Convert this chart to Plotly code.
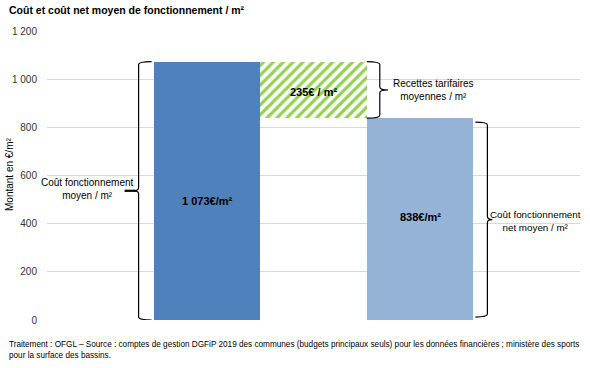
import plotly.graph_objects as go

# ---- data ----
bar_labels = ["1 073€/m²", "235€ / m²", "838€/m²"]
cout_moyen = 1073
recettes = 235
cout_net = 838
tick_vals = [0, 200, 400, 600, 800, 1000, 1200]
tick_text = ["0", "200", "400", "600", "800", "1 000", "1 200"]
brace_texts = ["Coût fonctionnement<br>moyen / m²",
               "Recettes tarifaires<br>moyennes / m²",
               "Coût fonctionnement<br>net moyen / m²"]
title_text = "Coût et coût net moyen de fonctionnement / m²"
y_title = "Montant en €/m²"
source_text = ("Traitement : OFGL – Source : comptes de gestion DGFiP 2019 des communes (budgets principaux seuls) "
               "pour les données financières ; ministère des sports<br>pour la surface des bassins.")

FONT = "Liberation Sans, Arial, sans-serif"
W, H = 590, 368
ML, MR, MT, MB = 47, 10, 31, 48
XR = [-0.5, 4.5]
YR = [0, 1200]
PW, PH = W - ML - MR, H - MT - MB
pxx = PW / (XR[1] - XR[0])   # px per x unit
pxy = PH / (YR[1] - YR[0])   # px per y unit


def px_to_paper(px, py):
    return (px - ML) / PW, 1 - (py - MT) / PH


fig = go.Figure()
lab_font = dict(family=FONT, size=11, color="black")
fig.add_trace(go.Bar(x=[1], y=[cout_moyen], width=1, marker=dict(color="#4F81BD", line=dict(width=0)),
                     hoverinfo="skip"))
fig.add_annotation(x=1, y=cout_moyen / 2, xref="x", yref="y", yshift=-10, text=f"<b>{bar_labels[0]}</b>",
                   showarrow=False, font=lab_font)
fig.add_trace(go.Bar(x=[2], y=[recettes], base=[cout_net], width=1,
                     marker=dict(color="white", line=dict(width=0),
                                 pattern=dict(shape="/", fgcolor="#92D050", bgcolor="white",
                                              size=7, solidity=0.45, fillmode="replace")),
                     hoverinfo="skip"))
fig.add_annotation(x=2, y=cout_net + recettes / 2, xref="x", yref="y", yshift=-2, text=f"<b>{bar_labels[1]}</b>",
                   showarrow=False, font=lab_font)
fig.add_trace(go.Bar(x=[3], y=[cout_net], width=1, marker=dict(color="#95B3D7", line=dict(width=0)),
                     hoverinfo="skip"))
fig.add_annotation(x=3, y=cout_net / 2, xref="x", yref="y", yshift=2, text=f"<b>{bar_labels[2]}</b>",
                   showarrow=False, font=lab_font)


def brace(xa, y0, y1, d, depth_px=12, tip_px=5, r_px=3):
    xv = xa + d * depth_px / pxx
    xt = xa + d * (depth_px + tip_px) / pxx
    r = r_px / pxy
    ym = (y0 + y1) / 2
    lo, hi = min(y0, y1), max(y0, y1)
    p = (f"M {xa},{hi} Q {xv},{hi} {xv},{hi - r} L {xv},{ym + r} "
         f"Q {xv},{ym} {xt},{ym} Q {xv},{ym} {xv},{ym - r} L {xv},{lo + r} "
         f"Q {xv},{lo} {xa},{lo}")
    fig.add_shape(type="path", path=p, xref="x", yref="y",
                  line=dict(color="black", width=1.2))
    return xt, ym


ann_font = dict(family=FONT, size=10, color="black")

# left brace
xt, ym = brace(0.5 - 2 / pxx, 0, cout_moyen, -1, 13, 5)
fig.add_shape(type="line", xref="x", yref="y", x0=xt - 9 / pxx, x1=xt + 2 / pxx, y0=ym, y1=ym,
              line=dict(color="black", width=2.2))
fig.add_annotation(x=xt + 2 / pxx, y=ym + 2 / pxy, xref="x", yref="y", text=brace_texts[0],
                   showarrow=False, xanchor="right", yanchor="middle", align="center", font=ann_font)

# brace for recettes
xt, ym = brace(2.5, cout_net, cout_moyen, 1, 13, 8)
fig.add_annotation(x=xt + 3 / pxx, y=ym, xref="x", yref="y", text=brace_texts[1],
                   showarrow=False, xanchor="left", yanchor="middle", align="center", font=ann_font)

# brace for net cost
xt, ym = brace(3.5 + 2 / pxx, 12, cout_net - 16, 1, 12, 5)
fig.add_annotation(x=xt - 4 / pxx, y=ym - 1.5 / pxy, xref="x", yref="y", text=brace_texts[2],
                   showarrow=False, xanchor="left", yanchor="middle", align="center",
                   font=dict(family=FONT, size=9.8, color="black"))

# title
tx, ty = px_to_paper(7, 10)
fig.add_annotation(x=tx, y=ty, xref="paper", yref="paper", text=f"<b>{title_text}</b>",
                   showarrow=False, xanchor="left", yanchor="middle",
                   font=dict(family=FONT, size=10.5, color="black"))

# y-axis title
ax, ay = px_to_paper(9, 175)
fig.add_annotation(x=ax, y=ay, xref="paper", yref="paper", text=y_title, textangle=-90,
                   showarrow=False, xanchor="center", yanchor="middle",
                   font=dict(family=FONT, size=10, color="black"))

# source
sx, sy = px_to_paper(7, 338)
fig.add_annotation(x=sx, y=sy, xref="paper", yref="paper", text=source_text,
                   showarrow=False, xanchor="left", yanchor="top", align="left",
                   font=dict(family=FONT, size=8.2, color="black"))

fig.update_layout(
    width=W, height=H, margin=dict(l=ML, r=MR, t=MT, b=MB, autoexpand=False),
    paper_bgcolor="white", plot_bgcolor="white", showlegend=False,
    bargap=0, barmode="overlay",
    xaxis=dict(range=XR, showticklabels=False, showgrid=False, zeroline=False, fixedrange=True,
               automargin=False),
    yaxis=dict(range=YR, tickvals=tick_vals, ticktext=tick_text, showgrid=True, gridcolor="#d9d9d9",
               gridwidth=1, zeroline=False, ticks="", ticklabelstandoff=9, automargin=False,
               tickfont=dict(family=FONT, size=10, color="#333333")),
    font=dict(family=FONT),
)

fig.write_html("out.html", config={"displayModeBar": False},
               post_script="document.body.style.margin='0px';document.body.style.overflow='hidden';")
